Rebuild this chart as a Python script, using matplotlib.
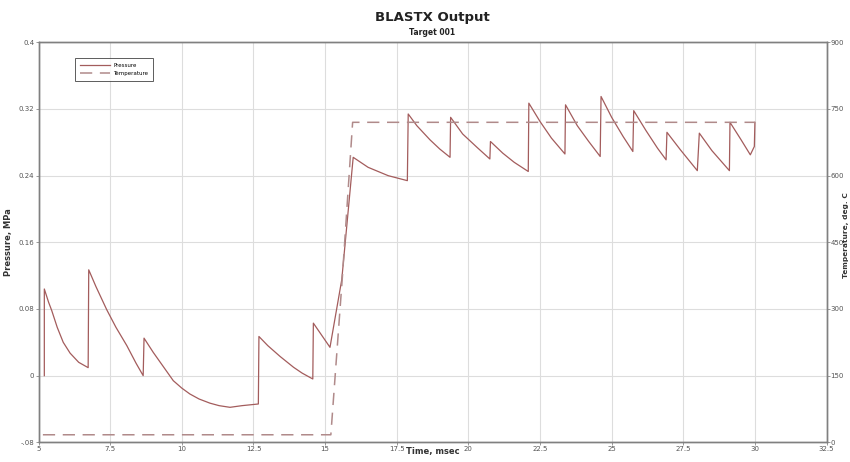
import matplotlib
matplotlib.use("Agg")
import matplotlib.pyplot as plt
import numpy as np

# Pressure trace (msec, MPa)
time_p = [5.2, 5.2, 5.35, 5.46, 5.65, 5.86, 6.1, 6.4, 6.73,
          6.75, 7.0, 7.38, 7.7, 8.08, 8.4, 8.65,
          8.68, 9.0, 9.35, 9.7, 10.0, 10.28, 10.6, 10.98, 11.3, 11.68, 12.1, 12.67,
          12.69, 13.0, 13.43, 13.9, 14.2, 14.57,
          14.59, 15.17, 15.58, 15.98,
          16.5, 17.2, 17.87,
          17.9, 18.2, 18.66, 19.0, 19.36,
          19.38, 19.8, 20.3, 20.75,
          20.77, 21.2, 21.6, 22.09,
          22.11, 22.5, 22.9, 23.37,
          23.39, 23.8, 24.2, 24.6,
          24.63, 25.0, 25.4, 25.74,
          25.77, 26.2, 26.6, 26.9,
          26.93, 27.4, 27.99,
          28.06, 28.5, 29.11,
          29.13, 29.5, 29.84, 29.98, 30.0]
pressure = [0.0, 0.104, 0.088, 0.078, 0.058, 0.040, 0.027, 0.016, 0.0096,
            0.127, 0.107, 0.079, 0.058, 0.036, 0.015, 0.0,
            0.045, 0.028, 0.011, -0.006, -0.015, -0.022, -0.028, -0.033, -0.036, -0.038, -0.036, -0.034,
            0.047, 0.036, 0.023, 0.010, 0.003, -0.004,
            0.063, 0.034, 0.115, 0.262,
            0.250, 0.240, 0.234,
            0.314, 0.300, 0.283, 0.272, 0.262,
            0.310, 0.290, 0.274, 0.260,
            0.281, 0.267, 0.256, 0.245,
            0.327, 0.305, 0.285, 0.266,
            0.325, 0.300, 0.281, 0.263,
            0.335, 0.310, 0.287, 0.269,
            0.318, 0.294, 0.273, 0.259,
            0.292, 0.271, 0.246,
            0.291, 0.270, 0.246,
            0.304, 0.284, 0.265, 0.275, 0.304]

# Temperature trace (msec, deg C)
time_t = [5.15, 15.2, 15.6, 15.96, 30.0]
temperature = [17, 17, 370, 720, 720]

x_ticks = [5, 7.5, 10, 12.5, 15, 17.5, 20, 22.5, 25, 27.5, 30, 32.5]
p_ticks = [-0.08, 0, 0.08, 0.16, 0.24, 0.32, 0.4]
p_labels = ["-.08", "0", "0.08", "0.16", "0.24", "0.32", "0.4"]
t_ticks = [0, 150, 300, 450, 600, 750, 900]

fig = plt.figure(figsize=(8.5, 4.62), dpi=100)
ax = fig.add_axes([0.0454, 0.0426, 0.927, 0.8658])
ax2 = ax.twinx()

tick_kw = dict(labelsize=5, labelcolor="#555555", colors="#888888", length=2, width=0.6, pad=1.0)

ax.plot(time_p, pressure, color="#a35c5c", lw=0.9, label="Pressure")
ax2.plot(time_t, temperature, color="#b08a8a", lw=1.1, dashes=(8, 5), label="Temperature")

ax.set_xlim(5, 32.5)
ax.set_ylim(-0.08, 0.4)
ax2.set_ylim(0, 900)
ax.set_xticks(x_ticks)
ax.set_xticklabels([f"{v:g}" for v in x_ticks])
ax.set_yticks(p_ticks)
ax.set_yticklabels(p_labels)
ax2.set_yticks(t_ticks)
ax.tick_params(**tick_kw)
ax2.tick_params(**tick_kw)
ax.grid(True, color="#dddddd", lw=0.8)

for a in (ax, ax2):
    for s in a.spines.values():
        s.set_color("#808080")
        s.set_linewidth(1.0)

ax.set_ylabel("Pressure, MPa", fontsize=6, fontweight="bold", color="#333333", labelpad=4)
fig.text(0.5088, 0.012, "Time, msec", fontsize=6, fontweight="bold", color="#333333", ha="center", va="bottom")
fig.text(0.9985, 0.49, "Temperature, deg. C", fontsize=5.3, fontweight="bold", color="#333333",
         rotation=90, ha="right", va="center")

fig.text(0.5088, 0.963, "BLASTX Output", fontsize=9.5, fontweight="bold", color="#222222", ha="center", va="center")
fig.text(0.5088, 0.930, "Target 001", fontsize=5.5, fontweight="bold", color="#222222", ha="center", va="center")

h1, l1 = ax.get_legend_handles_labels()
h2, l2 = ax2.get_legend_handles_labels()
leg = ax2.legend(h1 + h2, l1 + l2, loc="upper left", bbox_to_anchor=(0.046, 0.962),
                 fontsize=4, frameon=True, fancybox=False, handlelength=5.5, borderpad=0.9,
                 labelspacing=0.7, handletextpad=0.5, borderaxespad=0)
leg.get_frame().set_edgecolor("#333333")
leg.get_frame().set_linewidth(0.7)

fig.savefig("out.png", dpi=100)
